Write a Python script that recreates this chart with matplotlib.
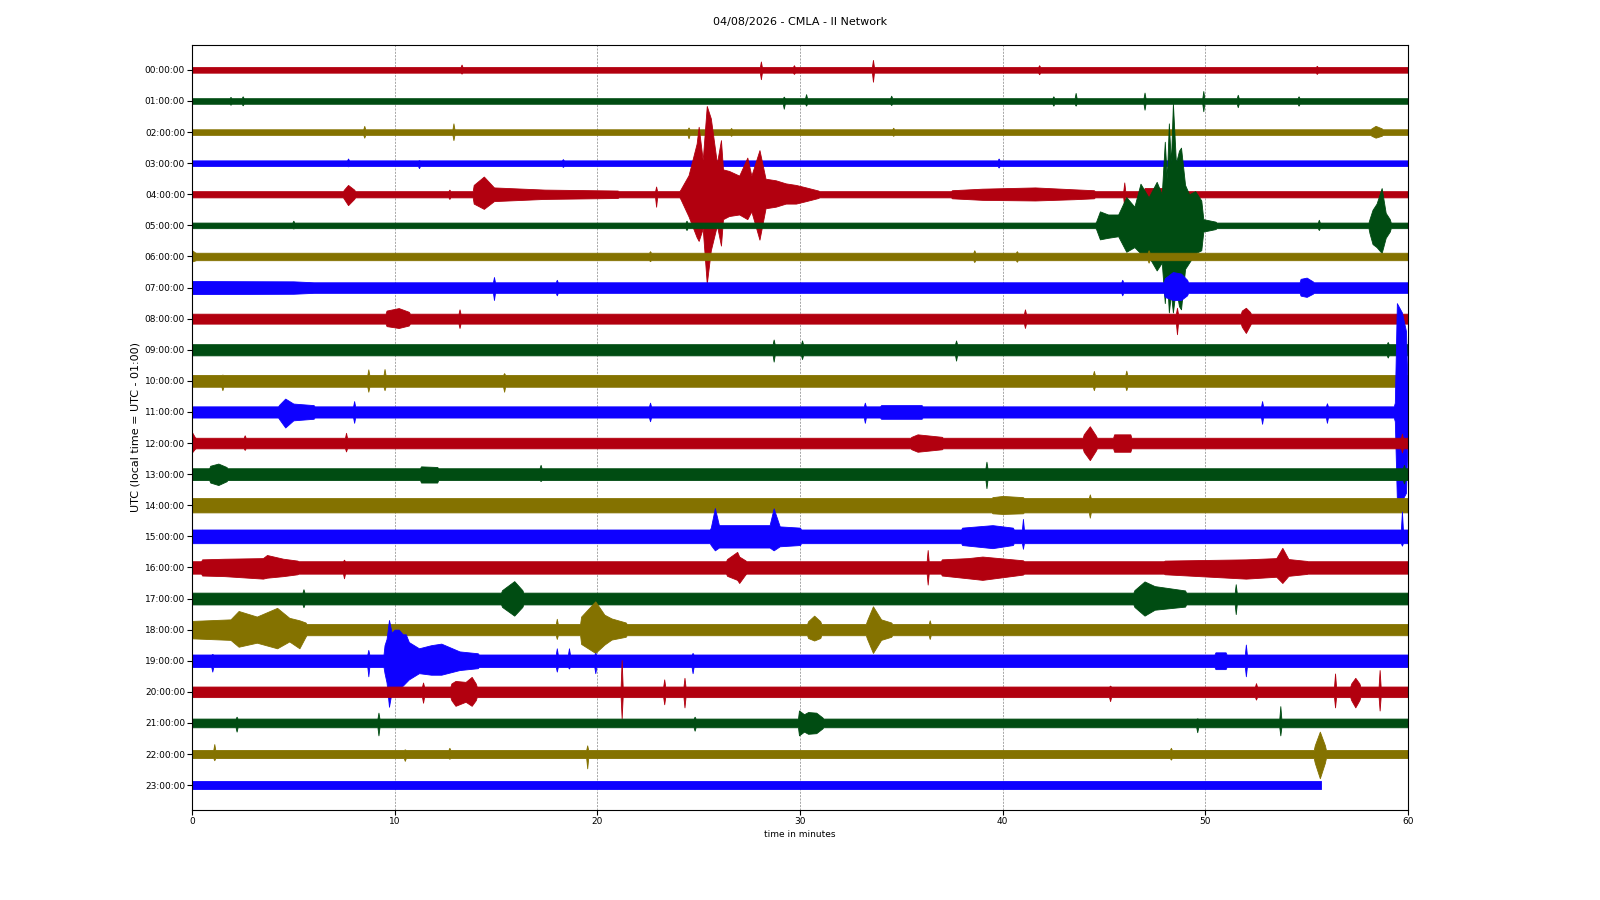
import matplotlib
matplotlib.use("Agg")
import matplotlib.pyplot as plt

# dayplot of one hour per line, CMLA station
title = "04/08/2026 - CMLA - II Network"
hour_labels = ["00:00:00", "01:00:00", "02:00:00", "03:00:00", "04:00:00", "05:00:00",
               "06:00:00", "07:00:00", "08:00:00", "09:00:00", "10:00:00", "11:00:00",
               "12:00:00", "13:00:00", "14:00:00", "15:00:00", "16:00:00", "17:00:00",
               "18:00:00", "19:00:00", "20:00:00", "21:00:00", "22:00:00", "23:00:00"]
trace_colors = ["#B2000F", "#004C12", "#847200", "#0E01FF"]

# noise level of each line (fraction of line spacing)
base_amp = [0.09, 0.09, 0.09, 0.09, 0.1, 0.09, 0.12, 0.17, 0.16, 0.18, 0.19, 0.18,
            0.17, 0.19, 0.23, 0.22, 0.2, 0.19, 0.18, 0.2, 0.17, 0.14, 0.13, 0.13]
# minute where each line stops
trace_end = [60, 60, 60, 60, 60, 60, 60, 60, 60, 60, 60, 60,
             60, 60, 60, 60, 60, 60, 60, 60, 60, 60, 60, 55.7]

# events per line: groups of (minute, amplitude up, amplitude down)
ev00 = [[(13.3, 0.17, 0.12)], [(28.07, 0.27, 0.3)], [(29.7, 0.15, 0.13)],
        [(33.6, 0.32, 0.38)], [(41.8, 0.15, 0.14)], [(55.5, 0.13, 0.13)]]
ev01 = [[(1.9, 0.13, 0.12)], [(2.5, 0.15, 0.14)], [(29.2, 0.14, 0.25)], [(30.3, 0.22, 0.15)],
        [(34.5, 0.17, 0.13)], [(42.5, 0.15, 0.15)], [(43.6, 0.26, 0.15)], [(47.0, 0.27, 0.28)],
        [(49.9, 0.32, 0.33)], [(51.6, 0.2, 0.2)], [(54.6, 0.15, 0.15)]]
ev02 = [[(8.5, 0.2, 0.18)], [(12.9, 0.28, 0.26)], [(24.5, 0.15, 0.2)], [(26.6, 0.13, 0.12)],
        [(34.6, 0.14, 0.12)], [(58.2, 0.12, 0.12), (58.4, 0.2, 0.18), (58.7, 0.12, 0.12)]]
ev03 = [[(7.7, 0.15, 0.1)], [(11.2, 0.1, 0.16)], [(18.3, 0.13, 0.12)], [(39.8, 0.15, 0.14)]]
ev04 = [[(7.5, 0.15, 0.15), (7.7, 0.3, 0.35), (8.0, 0.15, 0.15)],
        [(12.7, 0.15, 0.15)],
        [(13.9, 0.3, 0.3), (14.4, 0.57, 0.47), (14.9, 0.22, 0.22), (17.4, 0.15, 0.15), (21.0, 0.12, 0.12)],
        [(22.9, 0.25, 0.4)],
        [(24.1, 0.15, 0.15), (24.5, 0.61, 0.71), (24.9, 1.63, 1.38), (25.0, 2.17, 1.5),
         (25.2, 1.1, 1.1), (25.4, 2.84, 2.88), (25.6, 2.44, 1.8), (25.9, 1.0, 1.0),
         (26.1, 1.74, 1.65), (26.2, 0.8, 0.8), (26.5, 0.75, 0.7), (27.0, 0.6, 0.65),
         (27.4, 1.18, 0.8), (27.6, 0.6, 0.55), (28.0, 1.42, 1.46), (28.3, 0.5, 0.45),
         (28.8, 0.45, 0.4), (29.3, 0.35, 0.3), (29.8, 0.3, 0.3), (30.3, 0.22, 0.22), (30.9, 0.12, 0.12)],
        [(37.5, 0.13, 0.13), (39.0, 0.18, 0.18), (41.6, 0.22, 0.2), (43.5, 0.16, 0.16), (44.5, 0.13, 0.13)],
        [(46.0, 0.38, 0.45)],
        [(47.0, 0.2, 0.2), (48.5, 0.2, 0.2)]]
ev05 = [[(5.0, 0.15, 0.1)], [(24.4, 0.15, 0.15)],
        [(44.6, 0.1, 0.1), (44.8, 0.45, 0.45), (45.2, 0.35, 0.4), (45.7, 0.35, 0.35),
         (46.1, 0.91, 0.85), (46.5, 0.6, 0.7), (46.8, 1.34, 0.9), (47.2, 0.9, 1.0),
         (47.6, 1.4, 1.45), (47.85, 1.0, 1.2), (48.0, 2.69, 2.5), (48.1, 1.5, 1.6),
         (48.2, 3.28, 2.8), (48.3, 2.0, 2.2), (48.4, 3.92, 2.8), (48.55, 2.0, 2.0),
         (48.7, 2.4, 2.6), (48.8, 2.5, 2.7), (49.0, 1.3, 1.4), (49.2, 1.0, 1.2),
         (49.5, 1.1, 0.9), (49.8, 0.8, 0.8), (49.9, 0.2, 0.2), (50.5, 0.12, 0.12)],
        [(55.6, 0.18, 0.15)],
        [(58.1, 0.2, 0.25), (58.25, 0.5, 0.6), (58.45, 0.7, 0.7), (58.7, 1.2, 0.89),
         (58.9, 0.4, 0.4), (59.1, 0.2, 0.2)]]
ev06 = [[(0.0, 0.2, 0.16), (0.15, 0.13, 0.13)], [(22.6, 0.17, 0.15)], [(38.6, 0.2, 0.18)],
        [(40.7, 0.17, 0.17)], [(47.2, 0.2, 0.2)]]
ev07 = [[(0.0, 0.21, 0.21), (5.0, 0.2, 0.2), (6.0, 0.17, 0.17)], [(14.9, 0.34, 0.4)],
        [(18.0, 0.25, 0.25)], [(45.9, 0.25, 0.25)],
        [(48.0, 0.3, 0.3), (48.4, 0.5, 0.4), (48.8, 0.45, 0.4), (49.1, 0.25, 0.25)],
        [(54.7, 0.28, 0.26), (55.0, 0.32, 0.3), (55.3, 0.2, 0.2)]]
ev08 = [[(9.6, 0.26, 0.24), (10.2, 0.34, 0.3), (10.7, 0.22, 0.22)], [(13.2, 0.3, 0.3)],
        [(41.1, 0.3, 0.3)], [(48.6, 0.35, 0.5)],
        [(51.8, 0.26, 0.26), (52.0, 0.35, 0.46), (52.2, 0.22, 0.22)]]
ev09 = [[(28.7, 0.33, 0.38)], [(30.1, 0.3, 0.3)], [(37.7, 0.3, 0.35)], [(59.0, 0.25, 0.25)]]
ev10 = [[(1.5, 0.2, 0.3)], [(8.7, 0.37, 0.35)], [(9.5, 0.38, 0.3)], [(15.4, 0.25, 0.35)],
        [(44.5, 0.32, 0.3)], [(46.1, 0.33, 0.3)]]
ev11 = [[(4.3, 0.23, 0.23), (4.6, 0.43, 0.5), (5.0, 0.27, 0.27), (6.0, 0.22, 0.22)],
        [(8.0, 0.35, 0.35)], [(22.6, 0.3, 0.3)], [(33.2, 0.3, 0.35)],
        [(34.0, 0.22, 0.22), (36.0, 0.22, 0.22)], [(52.8, 0.35, 0.38)], [(56.0, 0.28, 0.35)],
        [(59.35, 0.3, 0.3), (59.45, 3.5, 2.8), (59.7, 3.2, 2.85), (59.9, 2.6, 2.6), (60.0, 0.3, 0.3)]]
ev12 = [[(0.0, 0.35, 0.3), (0.15, 0.18, 0.18)], [(2.6, 0.25, 0.22)], [(7.6, 0.33, 0.27)],
        [(35.5, 0.2, 0.2), (35.8, 0.28, 0.28), (37.0, 0.2, 0.2)],
        [(44.0, 0.28, 0.28), (44.3, 0.54, 0.55), (44.6, 0.24, 0.24)],
        [(45.5, 0.28, 0.28), (46.3, 0.28, 0.28)], [(59.7, 0.3, 0.3)]]
ev13 = [[(0.9, 0.27, 0.27), (1.3, 0.34, 0.35), (1.7, 0.23, 0.23)],
        [(11.3, 0.25, 0.27), (12.1, 0.23, 0.27)], [(17.2, 0.3, 0.22)], [(39.2, 0.4, 0.45)],
        [(59.8, 0.3, 0.3)]]
ev14 = [[(39.5, 0.26, 0.26), (40.0, 0.3, 0.28), (41.0, 0.26, 0.26)], [(44.3, 0.35, 0.4)]]
ev15 = [[(25.6, 0.28, 0.28), (25.8, 0.91, 0.45), (26.0, 0.36, 0.36), (28.5, 0.36, 0.36),
         (28.7, 0.9, 0.45), (29.0, 0.32, 0.32), (30.0, 0.28, 0.28)],
        [(38.0, 0.28, 0.28), (39.5, 0.36, 0.38), (40.5, 0.28, 0.28)], [(41.0, 0.56, 0.4)],
        [(59.7, 0.8, 0.3)]]
ev16 = [[(0.5, 0.26, 0.26), (1.6, 0.28, 0.28), (3.5, 0.3, 0.36), (3.7, 0.4, 0.33),
         (4.5, 0.28, 0.28), (5.2, 0.22, 0.22)], [(7.5, 0.25, 0.35)],
        [(26.4, 0.27, 0.27), (26.9, 0.5, 0.4), (27.0, 0.35, 0.5), (27.3, 0.23, 0.23)],
        [(36.3, 0.56, 0.55)],
        [(37.0, 0.26, 0.26), (38.3, 0.3, 0.35), (39.0, 0.35, 0.4), (41.0, 0.23, 0.23)],
        [(48.0, 0.22, 0.22), (52.0, 0.26, 0.36), (53.5, 0.3, 0.3), (53.8, 0.63, 0.5),
         (54.1, 0.27, 0.27), (55.0, 0.21, 0.21)]]
ev17 = [[(5.5, 0.3, 0.28)], [(15.3, 0.27, 0.27), (15.9, 0.56, 0.55), (16.3, 0.27, 0.27)],
        [(46.5, 0.27, 0.27), (47.0, 0.55, 0.55), (47.5, 0.4, 0.36), (49.0, 0.26, 0.26)],
        [(51.5, 0.46, 0.5)]]
ev18 = [[(0.0, 0.28, 0.28), (1.9, 0.33, 0.33), (2.3, 0.6, 0.55), (3.2, 0.42, 0.42),
         (4.2, 0.7, 0.6), (4.8, 0.38, 0.38), (5.3, 0.3, 0.6), (5.6, 0.23, 0.23)],
        [(18.0, 0.35, 0.3)],
        [(19.2, 0.42, 0.46), (19.9, 0.91, 0.75), (20.35, 0.48, 0.48), (20.7, 0.36, 0.32), (21.4, 0.23, 0.23)],
        [(30.4, 0.27, 0.27), (30.7, 0.45, 0.35), (31.0, 0.27, 0.27)],
        [(33.3, 0.28, 0.28), (33.6, 0.75, 0.75), (34.0, 0.33, 0.33), (34.5, 0.23, 0.23)],
        [(36.4, 0.3, 0.3)]]
ev19 = [[(1.0, 0.22, 0.35)], [(8.7, 0.35, 0.5)],
        [(9.5, 0.5, 0.4), (9.6, 0.7, 0.7), (9.72, 1.31, 1.48), (9.85, 0.9, 1.0), (10.0, 1.0, 0.9),
         (10.2, 1.0, 0.9), (10.4, 0.85, 0.8), (10.55, 0.85, 0.7), (10.7, 0.6, 0.6),
         (11.2, 0.4, 0.4), (11.8, 0.5, 0.45), (12.3, 0.55, 0.45), (13.2, 0.3, 0.3), (14.1, 0.24, 0.24)],
        [(18.0, 0.4, 0.35)], [(18.6, 0.4, 0.25)], [(19.9, 0.25, 0.4)], [(24.7, 0.25, 0.4)],
        [(50.5, 0.27, 0.27), (51.0, 0.27, 0.27)], [(52.0, 0.52, 0.5)]]
ev20 = [[(11.4, 0.3, 0.35)],
        [(12.8, 0.27, 0.27), (13.0, 0.35, 0.45), (13.5, 0.32, 0.32), (13.8, 0.48, 0.45), (14.0, 0.27, 0.27)],
        [(21.2, 1.02, 0.86)], [(23.3, 0.4, 0.4)], [(24.3, 0.45, 0.5)], [(45.3, 0.2, 0.3)],
        [(52.5, 0.28, 0.25)], [(56.4, 0.59, 0.5)],
        [(57.2, 0.27, 0.27), (57.4, 0.45, 0.5), (57.6, 0.27, 0.27)], [(58.6, 0.7, 0.6)]]
ev21 = [[(2.2, 0.2, 0.28)], [(9.2, 0.33, 0.4)], [(24.8, 0.2, 0.25)],
        [(29.95, 0.4, 0.4), (30.2, 0.28, 0.28), (30.4, 0.35, 0.35), (30.8, 0.33, 0.33), (31.1, 0.18, 0.18)],
        [(49.6, 0.15, 0.3)], [(53.7, 0.54, 0.4)]]
ev22 = [[(1.1, 0.32, 0.2)], [(10.5, 0.15, 0.22)], [(12.7, 0.2, 0.15)], [(19.5, 0.28, 0.46)],
        [(48.3, 0.2, 0.18)], [(55.4, 0.28, 0.28), (55.65, 0.72, 0.78), (55.9, 0.28, 0.28)]]
ev23 = []

events = [ev00, ev01, ev02, ev03, ev04, ev05, ev06, ev07, ev08, ev09, ev10, ev11,
          ev12, ev13, ev14, ev15, ev16, ev17, ev18, ev19, ev20, ev21, ev22, ev23]

RAMP = 0.05  # minutes for a spike to rise from the noise level


def envelope(base, groups, t_end):
    t, up, dn = [], [], []
    for grp in groups:
        t0 = grp[0][0]
        if t0 - RAMP > (t[-1] if t else -1):
            if not t:
                t.append(0.0); up.append(base); dn.append(base)
            t.append(t0 - RAMP); up.append(base); dn.append(base)
        for ti, ui, di in grp:
            t.append(ti); up.append(ui); dn.append(di)
        t1 = grp[-1][0]
        if t1 + RAMP < t_end:
            t.append(t1 + RAMP); up.append(base); dn.append(base)
    if not t:
        t.append(0.0); up.append(base); dn.append(base)
    if t[-1] < t_end:
        t.append(t_end); up.append(base); dn.append(base)
    return t, up, dn


fig = plt.figure(figsize=(16, 9), dpi=100)
ax = fig.add_axes([0.12, 0.1, 0.76, 0.85])

for i in range(len(hour_labels)):
    col = trace_colors[i % 4]
    t, up, dn = envelope(base_amp[i], events[i], trace_end[i])
    lower = [i - u for u in up]
    upper = [i + d for d in dn]
    ax.fill_between(t, lower, upper, color=col, edgecolor=col, linewidth=0.6, zorder=2 + i * 0.01)

ax.set_xlim(0, 60)
ax.set_ylim(23.8, -0.8)
ax.set_xticks([0, 10, 20, 30, 40, 50, 60])
ax.set_yticks(range(24))
ax.set_yticklabels(hour_labels)
ax.tick_params(axis="both", labelsize=6.5, length=3.5, pad=1.5)
ax.set_axisbelow(True)
ax.xaxis.grid(True, linestyle=(0, (2.5, 1.5)), linewidth=0.6, color="0.6")
ax.set_xlabel("time in minutes", fontsize=6.5, labelpad=3)
ax.set_ylabel("UTC (local time = UTC - 01:00)", fontsize=8, labelpad=3)
fig.text(0.5, 0.9756, title, ha="center", va="center", fontsize=8)

fig.savefig("out.png", dpi=100)
